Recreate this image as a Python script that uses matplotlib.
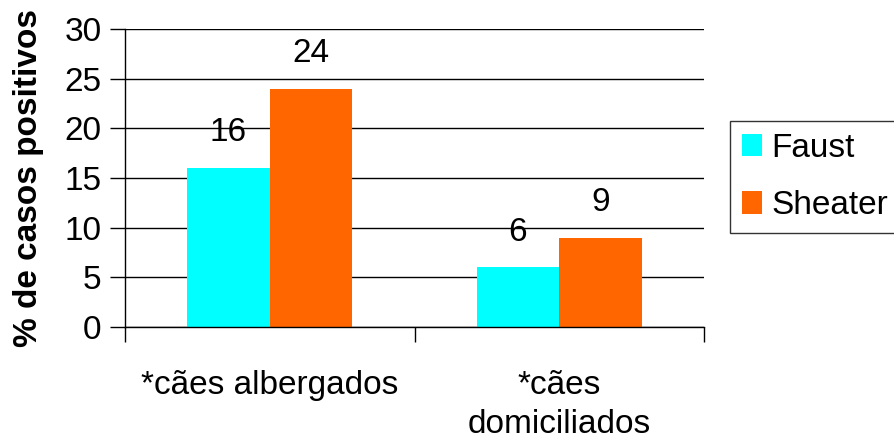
import matplotlib
matplotlib.use("Agg")
import matplotlib.pyplot as plt
import numpy as np
from matplotlib.patches import Patch

categories = ["*cães albergados", "*cães\ndomiciliados"]
series_names = ["Faust", "Sheater"]
faust = [16, 6]
sheater = [24, 9]
colors = ["#00FFFF", "#FF6600"]
yticks = [0, 5, 10, 15, 20, 25, 30]

plt.rcParams['font.family'] = ['Liberation Sans', 'DejaVu Sans']

fig = plt.figure(figsize=(8.94, 4.40), dpi=100)
ax = fig.add_axes([125/894, 1-327/440, (704-125)/894, (327-29)/440])

x = np.arange(len(categories)) + 0.5
w = 1/3.5
for i, (vals, col) in enumerate(zip([faust, sheater], colors)):
    pos = x + (i - 0.5) * w
    ax.bar(pos, vals, width=w, color=col, edgecolor='none', label=series_names[i], zorder=3)
    for p, v in zip(pos, vals):
        ax.text(p, v + 2.0, f"{v}", ha='center', va='bottom', fontsize=24, zorder=4)

ax.set_xlim(0, 2)
ax.set_ylim(0, 30)
ax.set_yticks(yticks)
ax.set_yticklabels([str(t) for t in yticks], fontsize=24)
ax.set_xticks([0, 1, 2])
ax.set_xticklabels([])
ax.tick_params(axis='both', direction='out', length=11, width=1, color='black')
ax.tick_params(axis='y', pad=6)
ax.yaxis.grid(True, color='black', linewidth=1)
ax.set_axisbelow(True)
for s in ['top', 'right']:
    ax.spines[s].set_visible(False)
for s in ['left', 'bottom']:
    ax.spines[s].set_color('black')
    ax.spines[s].set_linewidth(1)
    ax.spines[s].set_zorder(5)

for xi, lab in zip(x, categories):
    ax.text(xi, -4.3, lab, ha='center', va='top', fontsize=24, linespacing=1.35,
            transform=ax.transData)

ax.set_ylabel("% de casos positivos", fontsize=24, fontweight='bold')
ax.yaxis.set_label_coords(-(125-44)/579, 0.5)

handles = [Patch(facecolor=c, edgecolor='none') for c in colors]
leg = fig.legend(handles, series_names, loc='upper left',
                 bbox_to_anchor=(730/894, 1-121/440), fontsize=24,
                 frameon=True, fancybox=False, edgecolor='black',
                 handlelength=0.6, handleheight=0.65, handletextpad=0.3,
                 labelspacing=0.8, borderpad=0.35, borderaxespad=0)
leg.get_frame().set_linewidth(1)

fig.savefig("out.png", dpi=100)
